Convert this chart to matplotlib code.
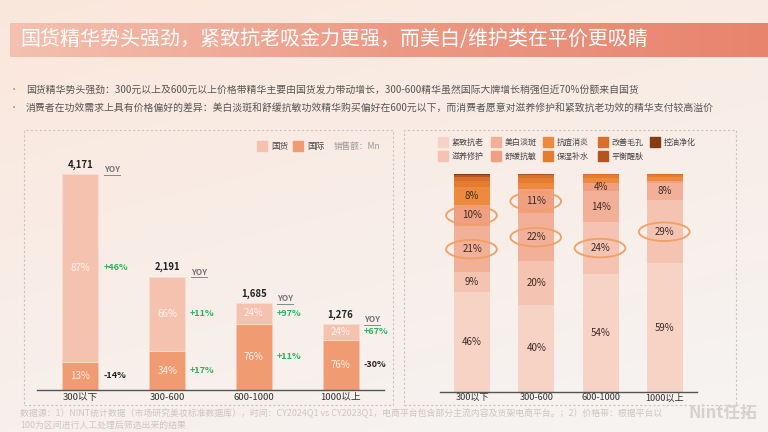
import matplotlib
matplotlib.use("Agg")
import matplotlib.pyplot as plt
import numpy as np
from matplotlib.patches import Rectangle, Ellipse
from matplotlib.lines import Line2D
from matplotlib.colors import LinearSegmentedColormap

plt.rcParams['font.family'] = ['Noto Sans CJK SC', 'DejaVu Sans']

# ---------------- data ----------------
price_bands = ["300以下", "300-600", "600-1000", "1000以上"]
total_sales = [4171, 2191, 1685, 1276]
domestic_share = [87, 66, 24, 24]      # 国货 %
intl_share = [13, 34, 76, 76]          # 国际 %
domestic_yoy = ["+46%", "+11%", "+97%", "+67%"]
intl_yoy = ["-14%", "+17%", "+11%", "-30%"]

effects = ["紧致抗老", "滋养修护", "美白淡斑", "舒缓抗敏", "抗痘消炎",
           "保湿补水", "改善毛孔", "平衡醒肤", "控油净化"]
effect_share = {
    "紧致抗老": [46, 40, 54, 59],
    "滋养修护": [9, 20, 24, 29],
    "美白淡斑": [21, 22, 14, 8],
    "舒缓抗敏": [10, 11, 4, 1],
    "抗痘消炎": [8, 3, 2, 1.5],
    "保湿补水": [3, 2, 1.5, 1],
    "改善毛孔": [1.5, 1.5, 0.5, 0.5],
    "平衡醒肤": [1, 0.5, 0, 0],
    "控油净化": [0.5, 0, 0, 0],
}
highlight = [("美白淡斑", 0), ("舒缓抗敏", 0), ("美白淡斑", 1), ("舒缓抗敏", 1),
             ("滋养修护", 2), ("滋养修护", 3)]

effect_colors = {
    "紧致抗老": "#f7d3c6", "滋养修护": "#f5c3b1", "美白淡斑": "#f2b098",
    "舒缓抗敏": "#f0a082", "抗痘消炎": "#ee8a3d", "保湿补水": "#e67b32",
    "改善毛孔": "#d96f2c", "平衡醒肤": "#b5541e", "控油净化": "#8a3a12",
}
legend_rows = [["紧致抗老", "美白淡斑", "抗痘消炎", "改善毛孔", "控油净化"],
               ["滋养修护", "舒缓抗敏", "保湿补水", "平衡醒肤"]]

title = "国货精华势头强劲，紧致抗老吸金力更强，而美白/维护类在平价更吸睛"
bullets = [
    "国货精华势头强劲：300元以上及600元以上价格带精华主要由国货发力带动增长，300-600精华虽然国际大牌增长稍强但近70%份额来自国货",
    "消费者在功效需求上具有价格偏好的差异：美白淡斑和舒缓抗敏功效精华购买偏好在600元以下，而消费者愿意对滋养修护和紧致抗老功效的精华支付较高溢价",
]
footer = ["数据源：1）NINT统计数据（市场研究美妆标准数据库），时间：CY2024Q1 vs CY2023Q1，电商平台包含部分主流内容及货架电商平台。；2）价格带：根据平台以",
          "100为区间进行人工处理后筛选出来的结果"]

W, H = 768, 432
fig = plt.figure(figsize=(W / 100, H / 100), dpi=100)


def fx(x):
    return x / W


def fy(y):
    return 1 - y / H


def rect(x0, y0, x1, y1):
    return [fx(x0), fy(y1), fx(x1) - fx(x0), fy(y0) - fy(y1)]


# ---------------- background ----------------
bg = fig.add_axes([0, 0, 1, 1], zorder=-10)
yy, xx = np.mgrid[0:1:200j, 0:1:300j]
t = np.clip(0.75 * yy + 0.35 * xx, 0, 1)
c0 = np.array([251, 231, 220]) / 255
c1 = np.array([246, 243, 241]) / 255
img = c0[None, None, :] * (1 - t[..., None]) + c1[None, None, :] * t[..., None]
bg.imshow(img, aspect='auto', extent=[0, 1, 0, 1], origin='upper')
bg.set_xlim(0, 1)
bg.set_ylim(0, 1)
bg.axis('off')

# ---------------- title banner ----------------
ban = fig.add_axes(rect(10, 23, 768, 57), zorder=-5)
cmap = LinearSegmentedColormap.from_list("b", ["#f4c0af", "#ec9a85", "#e8846e"])
ban.imshow(np.linspace(0, 1, 256)[None, :], cmap=cmap, aspect='auto', extent=[0, 1, 0, 1])
ban.axis('off')
fig.text(fx(20), fy(40), title, color='white', fontsize=14.4, va='center', ha='left')

# ---------------- bullets ----------------
for i, b in enumerate(bullets):
    yb = 90 + i * 18
    fig.text(fx(14), fy(yb), "•", color='#888888', fontsize=6, va='center', ha='center')
    fig.text(fx(26), fy(yb), b, color='#555555', fontsize=7.1, va='center', ha='left')

# ---------------- panel borders ----------------
for (x0, y0, x1, y1) in [(24, 130, 393, 405), (404, 130, 736, 405)]:
    bg.add_patch(Rectangle((fx(x0), fy(y1)), fx(x1) - fx(x0), fy(y0) - fy(y1),
                           fill=False, ec='#c9c4c0', lw=0.8, ls=(0, (2, 2)),
                           transform=fig.transFigure))

# ---------------- left chart ----------------
axL = fig.add_axes(rect(37, 150, 384, 390))
axL.patch.set_alpha(0)
ymaxL = 4171 * 240 / 216
axL.set_ylim(0, ymaxL)
axL.set_xlim(-0.5, 3.5)
x = np.arange(len(price_bands))
wL = 0.415
intl_vals = np.array(total_sales) * np.array(intl_share) / 100
dom_vals = np.array(total_sales) * np.array(domestic_share) / 100
axL.bar(x, intl_vals, width=wL, color='#f09b72', edgecolor='#f6c9b5', lw=0.6)
axL.bar(x, dom_vals, width=wL, bottom=intl_vals, color='#f5c2b0', edgecolor='#f9dccf', lw=0.6)
for s in ['top', 'left', 'right']:
    axL.spines[s].set_visible(False)
axL.spines['bottom'].set_color('#555555')
axL.spines['bottom'].set_linewidth(1)
axL.set_yticks([])
axL.set_xticks(x)
axL.set_xticklabels(price_bands, fontsize=6.9, color='#333333')
axL.tick_params(axis='x', length=0, pad=2)

px_per_unit_x = (384 - 37) / 4.0
for i in range(len(price_bands)):
    tot = total_sales[i]
    axL.annotate(f"{tot:,}", (x[i], tot), xytext=(0, 3), textcoords='offset points',
                 ha='center', va='bottom', fontsize=6.9, color='#222222', fontweight='bold')
    axL.text(x[i], intl_vals[i] / 2, f"{intl_share[i]}%", ha='center', va='center',
             fontsize=7, color='#fff3ec')
    axL.text(x[i], intl_vals[i] + dom_vals[i] / 2, f"{domestic_share[i]}%", ha='center',
             va='center', fontsize=7, color='#fff3ec')
    xr = x[i] + wL / 2 + 5 / px_per_unit_x
    c_dom = '#27b35f' if domestic_yoy[i].startswith('+') else '#222222'
    c_int = '#27b35f' if intl_yoy[i].startswith('+') else '#222222'
    axL.text(xr, intl_vals[i] + dom_vals[i] / 2, domestic_yoy[i], ha='left', va='center',
             fontsize=6.5, color=c_dom, fontweight='bold')
    axL.text(xr, intl_vals[i] / 2, intl_yoy[i], ha='left', va='center',
             fontsize=6.5, color=c_int, fontweight='bold')
    xy_ = x[i] + 31.5 / px_per_unit_x
    axL.annotate("YOY", (xy_, tot), xytext=(0, 3), textcoords='offset points',
                 ha='center', va='center', fontsize=6, color='#777777', fontweight='bold')

# legend left
for (sx, lab, col) in [(257, "国货", '#f5c2b0'), (293, "国际", '#f09b72')]:
    bg.add_patch(Rectangle((fx(sx), fy(151)), fx(10), 10 / H, color=col,
                           transform=fig.transFigure))
    fig.text(fx(sx + 14), fy(146), lab, fontsize=6.2, color='#444444', va='center', ha='left')
fig.text(fx(334), fy(146), "销售额：Mn", fontsize=6.2, color='#999999', va='center', ha='left')

# ---------------- right chart ----------------
axR = fig.add_axes(rect(440, 174, 697, 392))
axR.patch.set_alpha(0)
axR.set_ylim(0, 100)
axR.set_xlim(-0.5, 3.5)
wR = 0.56
bottom = np.zeros(len(price_bands))
mids = {}
for e in effects:
    vals = np.array(effect_share[e], dtype=float)
    axR.bar(x, vals, width=wR, bottom=bottom, color=effect_colors[e], lw=0)
    for i, v in enumerate(vals):
        mids[(e, i)] = bottom[i] + v / 2
        if v >= 4:
            axR.text(x[i], bottom[i] + v / 2, f"{v:.0f}%", ha='center', va='center',
                     fontsize=7, color='#3a2a22')
    bottom += vals
for (e, i) in highlight:
    axR.add_patch(Ellipse((x[i] - 0.01, mids[(e, i)]), width=0.79, height=8.5,
                          fill=False, ec='#f0a064', lw=1.3, clip_on=False))
for s in ['top', 'left', 'right']:
    axR.spines[s].set_visible(False)
axR.spines['bottom'].set_color('#555555')
axR.spines['bottom'].set_linewidth(1)
axR.set_yticks([])
axR.set_xticks(x)
axR.set_xticklabels(price_bands, fontsize=6.6, color='#333333')
axR.tick_params(axis='x', length=0, pad=1)

# legend right
col_x = [438, 491, 543, 598, 650]
row_y = [142, 156]
for r, row in enumerate(legend_rows):
    for c, e in enumerate(row):
        sx = col_x[c]
        sy = row_y[r]
        bg.add_patch(Rectangle((fx(sx), fy(sy + 4.5)), fx(9.5), 9 / H,
                               color=effect_colors[e], transform=fig.transFigure))
        fig.text(fx(sx + 14), fy(sy), e, fontsize=5.8, color='#444444', va='center', ha='left')

# ---------------- footer ----------------
fig.text(fx(20), fy(413), footer[0], fontsize=6.4, color='#cdc6c2', va='center', ha='left')
fig.text(fx(20), fy(425), footer[1], fontsize=6.4, color='#cdc6c2', va='center', ha='left')
fig.text(fx(757), fy(413), "Nint任拓", fontsize=12, color='#d6d1ce', va='center', ha='right',
         fontweight='bold')

fig.canvas.draw()
# underline YOY
for i in range(len(price_bands)):
    xy_ = x[i] + 31.5 / px_per_unit_x
    dx, dy = axL.transData.transform((xy_, total_sales[i]))
    ly = dy + 3 * 100 / 72 - 5
    fig.add_artist(Line2D([(dx - 8) / W, (dx + 8) / W], [ly / H, ly / H],
                          color='#888888', lw=0.7))

fig.savefig("out.png", dpi=100)
